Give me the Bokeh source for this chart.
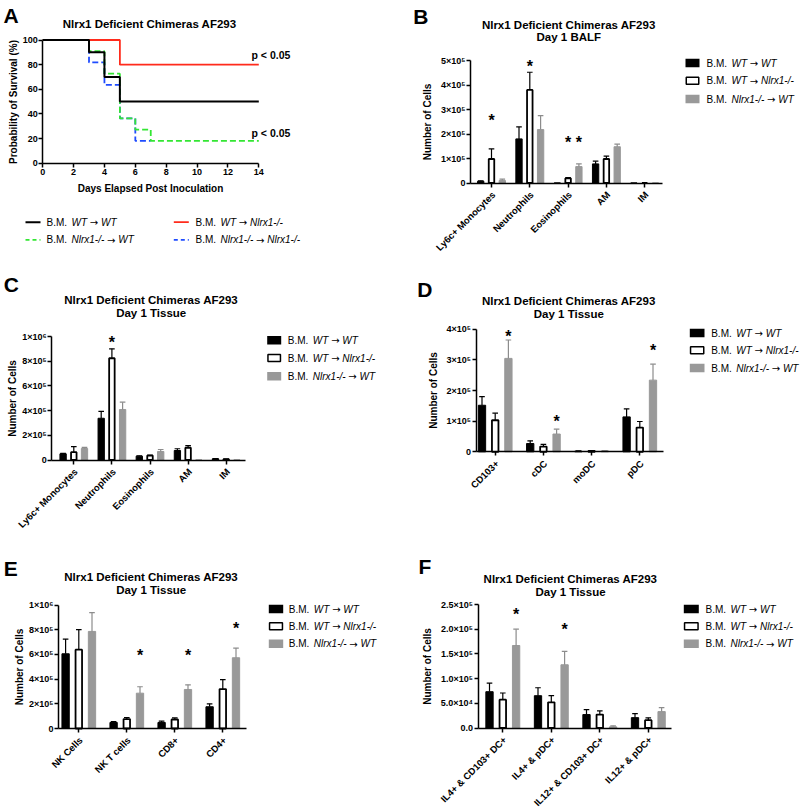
import numpy as np
from math import pi
from bokeh.plotting import figure
from bokeh.models import Range1d, LinearAxis, FixedTicker, ColumnDataSource
from bokeh.layouts import column, row
from bokeh.embed import file_html
from bokeh.resources import INLINE
from bokeh.core.properties import value

FONT = "Liberation Sans"
ARROW_FONT = "DejaVu Sans"

# ---------------- data ----------------
series_prefix = ["B.M.", "B.M.", "B.M."]
series_names = ["WT \u2192 WT", "WT \u2192 Nlrx1-/-", "Nlrx1-/- \u2192 WT"]

# Panel A: Kaplan-Meier survival (%)
surv_names = ["WT \u2192 WT", "WT \u2192 Nlrx1-/-", "Nlrx1-/- \u2192 WT", "Nlrx1-/- \u2192 Nlrx1-/-"]
surv_days_wt_wt = [0, 3, 4, 5, 14]
surv_pct_wt_wt = [100, 90, 70, 50, 50]
surv_days_wt_ko = [0, 5, 14]
surv_pct_wt_ko = [100, 80, 80]
surv_days_ko_wt = [0, 3, 4, 5, 6, 7, 14]
surv_pct_ko_wt = [100, 90.9, 72.7, 36.4, 27.3, 18.2, 18.2]
surv_days_ko_ko = [0, 3, 4, 5, 6, 7]
surv_pct_ko_ko = [100, 81.8, 63.6, 36.4, 18.2, 18.2]
surv_xticks = [0, 2, 4, 6, 8, 10, 12, 14]
surv_yticks = [0, 20, 40, 60, 80, 100]

# Panel B: Day 1 BALF
b_cats = ["Ly6c+ Monocytes", "Neutrophils", "Eosinophils", "AM", "IM"]
b_mean_wt_wt = [0.07e5, 1.80e5, 0.0, 0.78e5, 0.0]
b_sem_wt_wt = [0.02e5, 0.49e5, 0.0, 0.11e5, 0.0]
b_mean_wt_ko = [0.98e5, 3.80e5, 0.19e5, 0.98e5, 0.0]
b_sem_wt_ko = [0.41e5, 0.72e5, 0.03e5, 0.12e5, 0.0]
b_mean_ko_wt = [0.10e5, 2.18e5, 0.67e5, 1.48e5, 0.0]
b_sem_ko_wt = [0.06e5, 0.57e5, 0.11e5, 0.11e5, 0.0]
b_stars = [(0, 1, 2.72e5), (1, 1, 4.89e5), (2, 1, 1.80e5), (2, 2, 1.80e5)]
b_yticks = [0, 100000, 200000, 300000, 400000, 500000]
b_ylabels = ["0", "1\u00d710\u2075", "2\u00d710\u2075", "3\u00d710\u2075", "4\u00d710\u2075", "5\u00d710\u2075"]

# Panel C: Day 1 Tissue
c_cats = ["Ly6c+ Monocytes", "Neutrophils", "Eosinophils", "AM", "IM"]
c_mean_wt_wt = [0.50e5, 3.38e5, 0.31e5, 0.77e5, 0.10e5]
c_sem_wt_wt = [0.03e5, 0.55e5, 0.03e5, 0.14e5, 0.02e5]
c_mean_wt_ko = [0.63e5, 8.24e5, 0.36e5, 0.99e5, 0.06e5]
c_sem_wt_ko = [0.45e5, 0.76e5, 0.03e5, 0.18e5, 0.02e5]
c_mean_ko_wt = [0.93e5, 4.09e5, 0.69e5, 0.0, 0.0]
c_sem_ko_wt = [0.10e5, 0.59e5, 0.16e5, 0.0, 0.0]
c_stars = [(1, 1, 9.81e5)]
c_yticks = [0, 200000, 400000, 600000, 800000, 1000000]
c_ylabels = ["0", "2\u00d710\u2075", "4\u00d710\u2075", "6\u00d710\u2075", "8\u00d710\u2075", "1\u00d710\u2076"]

# Panel D: Day 1 Tissue, dendritic cells
d_cats = ["CD103+", "cDC", "moDC", "pDC"]
d_mean_wt_wt = [1.52e5, 0.27e5, 0.02e5, 1.14e5]
d_sem_wt_wt = [0.28e5, 0.09e5, 0.01e5, 0.26e5]
d_mean_wt_ko = [1.03e5, 0.17e5, 0.03e5, 0.79e5]
d_sem_wt_ko = [0.23e5, 0.07e5, 0.01e5, 0.20e5]
d_mean_ko_wt = [3.05e5, 0.58e5, 0.03e5, 2.34e5]
d_sem_ko_wt = [0.60e5, 0.16e5, 0.01e5, 0.52e5]
d_stars = [(0, 2, 3.89e5), (1, 2, 1.12e5), (3, 2, 3.42e5)]
d_yticks = [0, 100000, 200000, 300000, 400000]
d_ylabels = ["0", "1\u00d710\u2075", "2\u00d710\u2075", "3\u00d710\u2075", "4\u00d710\u2075"]

# Panel E: Day 1 Tissue, lymphocytes
e_cats = ["NK Cells", "NK T cells", "CD8+", "CD4+"]
e_mean_wt_wt = [6.05e5, 0.49e5, 0.49e5, 1.76e5]
e_sem_wt_wt = [1.19e5, 0.06e5, 0.11e5, 0.24e5]
e_mean_wt_ko = [6.38e5, 0.76e5, 0.73e5, 3.19e5]
e_sem_wt_ko = [1.62e5, 0.13e5, 0.13e5, 0.76e5]
e_mean_ko_wt = [7.86e5, 2.86e5, 3.16e5, 5.73e5]
e_sem_ko_wt = [1.52e5, 0.52e5, 0.38e5, 0.78e5]
e_stars = [(1, 2, 6.19e5), (2, 2, 6.19e5), (3, 2, 8.43e5)]
e_yticks = [0, 200000, 400000, 600000, 800000, 1000000]
e_ylabels = ["0", "2\u00d710\u2075", "4\u00d710\u2075", "6\u00d710\u2075", "8\u00d710\u2075", "1\u00d710\u2076"]

# Panel F: Day 1 Tissue, cytokine+ DCs
f_cats = ["IL4+ & CD103+ DC+", "IL4+ & pDC+", "IL12+ & CD103+ DC+", "IL12+ & pDC+"]
f_mean_wt_wt = [7.35e4, 6.54e4, 2.72e4, 2.10e4]
f_sem_wt_wt = [1.75e4, 1.61e4, 1.00e4, 0.80e4]
f_mean_wt_ko = [5.74e4, 5.20e4, 2.72e4, 1.58e4]
f_sem_wt_ko = [1.34e4, 1.34e4, 0.74e4, 0.47e4]
f_mean_ko_wt = [16.7e4, 12.8e4, 0.23e4, 3.32e4]
f_sem_ko_wt = [3.30e4, 2.70e4, 0.21e4, 0.81e4]
f_stars = [(0, 2, 23.7e4), (1, 2, 20.6e4)]
f_yticks = [0, 50000, 100000, 150000, 200000, 250000]
f_ylabels = ["0.0", "5.0\u00d710\u2074", "1.0\u00d710\u2075", "1.5\u00d710\u2075", "2.0\u00d710\u2075", "2.5\u00d710\u2075"]

TITLE = "Nlrx1 Deficient Chimeras AF293"

# ---------------- styling / helpers ----------------
BAR_FILL = ["#000000", "#ffffff", "#999999"]
BAR_LINE = ["#000000", "#000000", "#999999"]
ERR_COL = ["#000000", "#000000", "#8c8c8c"]

# advance widths (1/1000 em) of Arial-metric glyphs used in the legends
ADV = {"W": 944, "T": 611, " ": 278, "N": 722, "l": 222, "r": 333, "x": 500,
       "1": 556, "-": 333, "/": 278}
ARROW_ADV = 838  # DejaVu Sans rightwards arrow
LIFT = 0.35      # baseline correction (em)


def text_w(s, fs):
    return sum(ADV.get(c, 556) for c in s) * fs / 1000.0


class Frame:
    """Maps picture pixels to data units for a figure whose frame fills it."""

    def __init__(self, ox, oy, W, H, xa, pxa, xb, pxb, ya, pya, yb, pyb):
        self.ox, self.oy, self.W, self.H = ox, oy, W, H
        self.sx = (pxb - pxa) / (xb - xa)
        self.x0 = xa - (pxa - ox) / self.sx
        self.x1 = self.x0 + W / self.sx
        self.sy = (pya - pyb) / (yb - ya)
        self.y1 = ya + (pya - oy) / self.sy
        self.y0 = self.y1 - H / self.sy

    def X(self, px):
        return self.x0 + (px - self.ox) / self.sx

    def Y(self, py):
        return self.y1 - (py - self.oy) / self.sy

    def dx(self, px):
        return px / self.sx

    def dy(self, py):
        return py / self.sy


def make_fig(fr):
    p = figure(width=fr.W, height=fr.H, x_range=Range1d(fr.x0, fr.x1),
               y_range=Range1d(fr.y0, fr.y1), x_axis_type=None, y_axis_type=None,
               toolbar_location=None, output_backend="svg", min_border=0, title=None)
    p.outline_line_color = None
    p.background_fill_color = "white"
    p.border_fill_color = "white"
    return p


def style_axis(ax, size="9px"):
    ax.axis_line_width = 1.5
    ax.axis_line_color = "black"
    ax.major_tick_line_width = 1.5
    ax.major_tick_line_color = "black"
    ax.major_tick_out = 4
    ax.major_tick_in = 0
    ax.minor_tick_out = 0
    ax.minor_tick_in = 0
    ax.major_label_text_font = FONT
    ax.major_label_text_font_style = "bold"
    ax.major_label_text_font_size = size
    ax.major_label_text_color = "black"
    ax.axis_label_text_font = FONT
    ax.axis_label_text_font_style = "bold"
    ax.axis_label_text_font_size = "10px"
    ax.axis_label_text_color = "black"


def ptext(p, fr, px, py, text, fs, style="normal", align="left", font=FONT):
    """Text whose alphabetic baseline sits at picture pixel (px, py)."""
    p.text(x=[fr.X(px)], y=[fr.Y(py - LIFT * fs)], text=[text], text_font=value(font),
           text_font_size=value("%gpx" % fs), text_font_style=value(style),
           text_align=value(align), text_baseline=value("alphabetic"), text_color="black")


def legend_label(p, fr, tx, base, name, fs=10.0):
    ptext(p, fr, tx, base, "B.M.", fs)
    left, right = name.split(" \u2192 ")
    x = tx + text_w("B.M. ", fs)
    ptext(p, fr, x, base, left, fs, style="italic")
    x += text_w(left + " ", fs)
    ptext(p, fr, x, base + 0.3, "\u2192", fs, font=ARROW_FONT)
    x += ARROW_ADV * fs / 1000.0 + text_w(" ", fs)
    ptext(p, fr, x, base, right, fs, style="italic")


def bar_panel(fr, cats, means, sems, stars, yticks, ylabels, yaxis_px, xend_px,
              bar_px, off_px, title_x, title_bases, subtitle, letter, letter_pos,
              leg_x0, leg_x1, leg_rows, leg_tx, ylab_standoff):
    p = make_fig(fr)
    n = len(cats)
    idx = np.arange(n, dtype=float)
    cap = fr.dx(2.8)
    for s in range(3):
        x = idx + (s - 1) * fr.dx(off_px)
        lw = 1.8 if s == 1 else 1.0
        m = np.array(means[s], dtype=float)
        e = np.array(sems[s], dtype=float)
        src = ColumnDataSource(dict(x=x, top=m))
        p.vbar(x="x", top="top", bottom=0, width=fr.dx(bar_px - lw), source=src,
               fill_color=BAR_FILL[s], line_color=BAR_LINE[s], line_width=lw)
        k = e > 0
        p.segment(x0=x[k], y0=m[k], x1=x[k], y1=(m + e)[k], line_color=ERR_COL[s], line_width=1.2)
        p.segment(x0=x[k] - cap, y0=(m + e)[k], x1=x[k] + cap, y1=(m + e)[k],
                  line_color=ERR_COL[s], line_width=1.2)
    # significance stars (centre of the asterisk at the read value)
    fs_star = 16.0
    for (ci, si, yv) in stars:
        xs = ci + (si - 1) * fr.dx(off_px)
        p.text(x=[xs], y=[yv - fr.dy(0.58 * fs_star - LIFT * fs_star)], text=["*"],
               text_font=value(FONT), text_font_size=value("%gpx" % fs_star),
               text_font_style=value("bold"), text_align=value("center"),
               text_baseline=value("alphabetic"), text_color="black")
    # axes
    yax = LinearAxis(fixed_location=fr.X(yaxis_px), bounds=(0, yticks[-1]),
                     ticker=FixedTicker(ticks=yticks, minor_ticks=[]),
                     major_label_overrides={t: l for t, l in zip(yticks, ylabels)},
                     axis_label="Number of Cells", axis_label_standoff=ylab_standoff,
                     major_label_standoff=1)
    style_axis(yax, "9px")
    p.add_layout(yax, "left")
    xax = LinearAxis(fixed_location=0, bounds=(fr.X(yaxis_px), fr.X(xend_px)),
                     ticker=FixedTicker(ticks=list(range(n)), minor_ticks=[]),
                     major_label_overrides={i: "" for i in range(n)})
    style_axis(xax, "9.5px")
    p.add_layout(xax, "below")
    # rotated category labels, ending just below each tick
    p.text(x=idx + fr.dx(2.0), y=np.full(n, -fr.dy(10.0)), text=cats, angle=pi / 4,
           text_font=value(FONT), text_font_size=value("9.5px"), text_font_style=value("bold"),
           text_align=value("right"), text_baseline=value("middle"), text_color="black")
    # titles and letter
    ptext(p, fr, title_x, title_bases[0], TITLE, 11.5, style="bold", align="center")
    ptext(p, fr, title_x, title_bases[1], subtitle, 11.5, style="bold", align="center")
    ptext(p, fr, letter_pos[0], letter_pos[1], letter, 21, style="bold")
    # legend
    for s, yc in enumerate(leg_rows):
        lw = 1.5 if s == 1 else 0.0
        p.rect(x=[fr.X((leg_x0 + leg_x1) / 2)], y=[fr.Y(yc)], width=fr.dx(leg_x1 - leg_x0 - lw),
               height=fr.dy(8.4 - lw), fill_color=BAR_FILL[s],
               line_color=("black" if s == 1 else None), line_width=lw)
        legend_label(p, fr, leg_tx, yc + 3.6, series_names[s])
    return p


# ---------------- Panel A ----------------
frA = Frame(0, 0, 400, 270, 0, 42.2, 14, 258.3, 0, 162.7, 100, 39.5)
pA = make_fig(frA)
surv = [
    (surv_days_ko_ko, surv_pct_ko_ko, "#1f4cff", "6 3", 1.8),
    (surv_days_ko_wt, surv_pct_ko_wt, "#33e633", "6 3", 1.8),
    (surv_days_wt_ko, surv_pct_wt_ko, "#ff2b1c", "solid", 1.8),
    (surv_days_wt_wt, surv_pct_wt_wt, "#000000", "solid", 2.0),
]
for d, pc, col, dash, lw in surv:
    pA.step(x=d, y=pc, mode="after", line_color=col, line_width=lw, line_dash=dash)
yaxA = LinearAxis(fixed_location=0, bounds=(0, 100), ticker=FixedTicker(ticks=surv_yticks, minor_ticks=[]),
                  axis_label="Probability of Survival (%)", axis_label_standoff=0, major_label_standoff=1)
style_axis(yaxA, "9px")
pA.add_layout(yaxA, "left")
xaxA = LinearAxis(fixed_location=0, bounds=(0, 14), ticker=FixedTicker(ticks=surv_xticks, minor_ticks=[]),
                  axis_label="Days Elapsed Post Inoculation", axis_label_standoff=4, major_label_standoff=2)
style_axis(xaxA, "9px")
pA.add_layout(xaxA, "below")
ptext(pA, frA, 150.7, 27.3, "Nlrx1 Deficient Chimeras  AF293", 11.5, style="bold", align="center")
ptext(pA, frA, 3, 22.7, "A", 21, style="bold")
ptext(pA, frA, 251, 58.5, "p < 0.05", 10.5, style="bold")
ptext(pA, frA, 251, 136.5, "p < 0.05", 10.5, style="bold")
# legend of A (two columns)
legA = [
    (25, 40, 221.7, 46, "#000000", "solid", 2.0, 0),
    (173.3, 188.3, 221.7, 195, "#ff2b1c", "solid", 1.8, 1),
    (25, 40, 239.3, 46, "#33e633", "4 3", 1.8, 2),
    (173.3, 188.3, 239.3, 195, "#1f4cff", "4 3", 1.8, 3),
]
for x0, x1, yc, tx, col, dash, lw, k in legA:
    pA.line(x=[frA.X(x0), frA.X(x1)], y=[frA.Y(yc), frA.Y(yc)], line_color=col, line_width=lw, line_dash=dash)
    legend_label(pA, frA, tx, yc + 3.6, surv_names[k])

# ---------------- Panel B ----------------
frB = Frame(400, 0, 400, 270, 0, 491, 4, 644.2, 0, 182.5, 5e5, 60)
pB = bar_panel(frB, b_cats, [b_mean_wt_wt, b_mean_wt_ko, b_mean_ko_wt], [b_sem_wt_wt, b_sem_wt_ko, b_sem_ko_wt],
               b_stars, b_yticks, b_ylabels, 470, 662, 7.3, 10.8, 568.3, (28.3, 41.0), "Day 1 BALF",
               "B", (412.7, 23.3), 685, 699, [62.5, 80.2, 98.5], 706, 5)

# ---------------- Panel C ----------------
frC = Frame(0, 270, 400, 270, 0, 73.3, 4, 225.7, 0, 459.5, 1e6, 336)
pC = bar_panel(frC, c_cats, [c_mean_wt_wt, c_mean_wt_ko, c_mean_ko_wt], [c_sem_wt_wt, c_sem_wt_ko, c_sem_ko_wt],
               c_stars, c_yticks, c_ylabels, 51.2, 245, 7.3, 10.7, 150.7, (304.0, 317.0), "Day 1 Tissue",
               "C", (3.3, 291.7), 266.7, 280.7, [339.8, 357.5, 375.8], 287.3, 1)

# ---------------- Panel D ----------------
frD = Frame(400, 270, 400, 270, 0, 494.7, 3, 639.3, 0, 451.3, 4e5, 328.8)
pD = bar_panel(frD, d_cats, [d_mean_wt_wt, d_mean_wt_ko, d_mean_ko_wt], [d_sem_wt_wt, d_sem_wt_ko, d_sem_ko_wt],
               d_stars, d_yticks, d_ylabels, 475.5, 663.3, 8.3, 13.2, 568.3, (304.3, 317.3), "Day 1 Tissue",
               "D", (416.7, 296.7), 689.3, 704, [332.5, 349.8, 367.5], 710.7, 5)

# ---------------- Panel E ----------------
frE = Frame(0, 540, 400, 268, 0, 78.3, 3, 222.3, 0, 728, 1e6, 604.5)
pE = bar_panel(frE, e_cats, [e_mean_wt_wt, e_mean_wt_ko, e_mean_ko_wt], [e_sem_wt_wt, e_sem_wt_ko, e_sem_ko_wt],
               e_stars, e_yticks, e_ylabels, 58, 246, 8.3, 13.2, 150.7, (580.7, 594.0), "Day 1 Tissue",
               "E", (3.3, 575), 268.3, 282.7, [608.5, 625.8, 643.2], 288.3, 1)

# ---------------- Panel F ----------------
frF = Frame(400, 540, 400, 268, 0, 502.3, 3, 647.8, 0, 727.5, 2.5e5, 604)
pF = bar_panel(frF, f_cats, [f_mean_wt_wt, f_mean_wt_ko, f_mean_ko_wt], [f_sem_wt_wt, f_sem_wt_ko, f_sem_ko_wt],
               f_stars, f_yticks, f_ylabels, 477.5, 671, 8.3, 13.3, 570, (582.3, 595.3), "Day 1 Tissue",
               "F", (418, 573.3), 683.3, 698.3, [608.5, 625.8, 643.3], 705, 5)

layout = column(row(pA, pB), row(pC, pD), row(pE, pF))
open("out.html", "w").write(file_html(layout, INLINE))
